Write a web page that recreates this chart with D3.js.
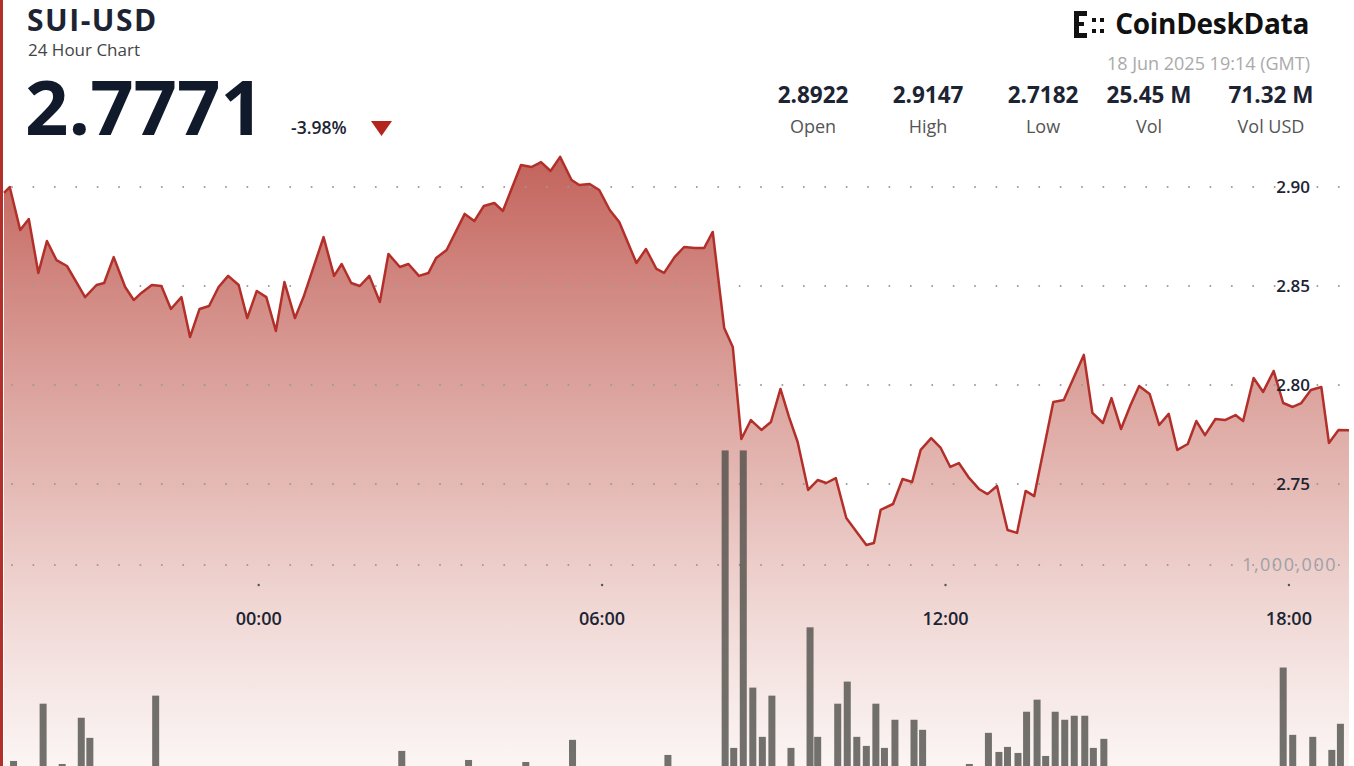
<!DOCTYPE html>
<html><head><meta charset="utf-8">
<script src="https://cdn.jsdelivr.net/npm/d3@7"></script>
<style>body{margin:0;background:#fff;font-family:"Open Sans",sans-serif}</style>
</head><body><svg id="c" width="1354" height="766" font-family="Open Sans, sans-serif"></svg>
<script>
// minutes since start (17 Jun 19:33 GMT)
const priceTimes=[0,6,17,26,36,45,55,66,85,97,105,115,127,136,144,155,165,175,186,195,205,215,225,235,246,255,265,275,285,294,305,314,335,346,354,364,373,383,394,403,415,424,435,445,453,464,483,493,503,514,523,542,553,563,573,583,595,603,614,624,635,645,663,673,684,692,703,713,724,734,743,755,764,773,783,794,804,814,823,832,843,853,862,872,883,904,912,919,932,942,952,961,972,982,992,1001,1011,1022,1031,1041,1052,1062,1071,1080,1100,1111,1132,1141,1152,1161,1171,1181,1190,1201,1211,1221,1230,1241,1250,1259,1270,1280,1291,1299,1310,1320,1331,1341,1351,1360,1370,1381,1389,1399,1410];
const prices=[2.8970,2.9000,2.8783,2.8838,2.8566,2.8727,2.8631,2.8601,2.8444,2.8505,2.8515,2.8646,2.8495,2.8429,2.8465,2.8505,2.8500,2.8384,2.8444,2.8242,2.8384,2.8399,2.8495,2.8551,2.8505,2.8338,2.8475,2.8444,2.8273,2.8520,2.8338,2.8444,2.8747,2.8551,2.8611,2.8515,2.8500,2.8551,2.8419,2.8662,2.8596,2.8611,2.8551,2.8566,2.8641,2.8682,2.8864,2.8828,2.8904,2.8919,2.8879,2.9111,2.9101,2.9126,2.9081,2.9152,2.9035,2.9010,2.9015,2.8985,2.8884,2.8823,2.8616,2.8687,2.8586,2.8566,2.8646,2.8697,2.8692,2.8692,2.8773,2.8288,2.8192,2.7727,2.7823,2.7773,2.7813,2.7980,2.7838,2.7712,2.7470,2.7520,2.7505,2.7530,2.7328,2.7192,2.7202,2.7369,2.7399,2.7525,2.7510,2.7672,2.7732,2.7682,2.7586,2.7606,2.7535,2.7475,2.7449,2.7490,2.7268,2.7253,2.7465,2.7439,2.7914,2.7924,2.8152,2.7859,2.7808,2.7934,2.7778,2.7899,2.7995,2.7955,2.7798,2.7854,2.7672,2.7702,2.7818,2.7747,2.7828,2.7823,2.7848,2.7818,2.8035,2.7965,2.8071,2.7909,2.7889,2.7909,2.7975,2.7990,2.7707,2.7773,2.7771];
const volTimes=[10,41,61,81,90,159,417,487,547,596,696,756,765,775,785,795,805,825,845,853,874,884,894,904,914,923,934,954,963,1012,1032,1043,1052,1063,1072,1083,1092,1102,1112,1122,1133,1142,1153,1341,1351,1372,1392,1401];
const volumes=[25000,310000,10000,240000,140000,350000,75000,30000,20000,130000,55000,1570000,90000,1570000,390000,145000,350000,90000,690000,145000,310000,420000,145000,100000,310000,90000,230000,230000,180000,10000,165000,70000,95000,65000,270000,330000,50000,270000,230000,250000,250000,90000,135000,490000,155000,145000,80000,210000];
const priceTicks=[2.75,2.80,2.85,2.90];
const volTicks=[1000000];
const timeTicks=[267,627,987,1347];
const timeLabels=["00:00","06:00","12:00","18:00"];
const stats=[["2.8922","Open"],["2.9147","High"],["2.7182","Low"],["25.45 M","Vol"],["71.32 M","Vol USD"]];

const svg=d3.select("#c");
const x=d3.scaleLinear().domain([0,1410]).range([4,1349]);
const y=d3.scaleLinear().domain([2.75,2.90]).range([484,187]);
const yv=d3.scaleLinear().domain([0,1000000]).range([766,565]);
const defs=svg.append("defs");
const g=defs.append("linearGradient").attr("id","ag").attr("gradientUnits","userSpaceOnUse")
 .attr("x1",0).attr("y1",155).attr("x2",0).attr("y2",766);
g.append("stop").attr("offset",0).attr("stop-color","#bf5a52").attr("stop-opacity",0.95);
g.append("stop").attr("offset",0.55).attr("stop-color","#dfaaa4").attr("stop-opacity",0.8);
g.append("stop").attr("offset",1).attr("stop-color","#f8eeec").attr("stop-opacity",0.6);
const pts=priceTimes.map((t,i)=>[t,prices[i]]);
svg.append("path").datum(pts).attr("fill","url(#ag)")
 .attr("d",d3.area().x(d=>x(d[0])).y0(766).y1(d=>y(d[1])));
function dots(yy){for(let xx=12;xx<1350;xx+=21.4)svg.append("circle").attr("cx",xx).attr("cy",yy).attr("r",1).attr("fill","#9a9a9a");}
priceTicks.forEach(v=>dots(y(v)));
volTicks.forEach(v=>dots(yv(v)));
svg.selectAll(".vb").data(volTimes).join("rect").attr("x",(t)=>x(t)-3.5).attr("width",7)
 .attr("y",(t,i)=>yv(volumes[i])).attr("height",(t,i)=>766-yv(volumes[i]))
 .attr("fill","#4c4c47").attr("opacity",0.78);
svg.append("path").datum(pts).attr("fill","none").attr("stroke","#b3302a").attr("stroke-width",2.5)
 .attr("stroke-linejoin","round").attr("d",d3.line().x(d=>x(d[0])).y(d=>y(d[1])));
svg.selectAll(".pt").data(priceTicks).join("text").attr("x",1310).attr("y",d=>y(d)+6).attr("text-anchor","end")
 .attr("font-size",17).attr("font-weight",600).attr("fill","#1c2433").text(d=>d.toFixed(2));
svg.selectAll(".vt").data(volTicks).join("text").attr("x",1337).attr("y",d=>yv(d)+6).attr("text-anchor","end")
 .attr("font-size",18).attr("letter-spacing",1.5).attr("fill","#a0a0a6").text(d=>d3.format(",")(d));
timeTicks.forEach((t,i)=>{
 svg.append("circle").attr("cx",x(t)).attr("cy",585).attr("r",1.2).attr("fill","#555");
 svg.append("text").attr("x",x(t)).attr("y",625).attr("text-anchor","middle").attr("font-size",18).attr("font-weight",600).attr("fill","#1c2433").text(timeLabels[i]);
});
svg.append("rect").attr("x",0).attr("y",0).attr("width",3).attr("height",766).attr("fill","#b3302a");
svg.append("text").attr("x",27).attr("y",31).attr("font-size",30).attr("font-weight",700).attr("letter-spacing",1.5).attr("fill","#1c2433").text("SUI-USD");
svg.append("text").attr("x",28).attr("y",56).attr("font-size",17).attr("fill","#444").text("24 Hour Chart");
svg.append("text").attr("x",25).attr("y",135).attr("font-size",76).attr("font-weight",700).attr("fill","#111a2b").text("2.7771");
svg.append("text").attr("x",291).attr("y",134).attr("font-size",17.5).attr("font-weight",600).attr("fill","#1c2433").text("-3.98%");
svg.append("path").attr("d","M371,121 L392,121 L381.5,136 Z").attr("fill","#b3261e");
const sx=[813,928,1043,1149,1271];
stats.forEach((s,i)=>{
 svg.append("text").attr("x",sx[i]).attr("y",103).attr("text-anchor","middle").attr("font-size",22.5).attr("font-weight",700).attr("fill","#1c2433").text(s[0]);
 svg.append("text").attr("x",sx[i]).attr("y",133).attr("text-anchor","middle").attr("font-size",18).attr("fill","#555").text(s[1]);
});
svg.append("text").attr("x",1310).attr("y",70).attr("text-anchor","end").attr("font-size",18).attr("fill","#aaa").text("18 Jun 2025 19:14 (GMT)");
svg.append("text").attr("x",1309).attr("y",34).attr("text-anchor","end").attr("font-size",28).attr("font-weight",700).attr("fill","#111").attr("letter-spacing",-0.3).text("CoinDeskData");
const lg=svg.append("g").attr("fill","#111");
[[1074,11,5,27],[1074,11,13,5],[1074,33,13,5],[1074,22,10,4],[1092,18,4,4],[1092,29,4,4],[1100,18,4,4],[1100,29,4,4]].forEach(r=>lg.append("rect").attr("x",r[0]).attr("y",r[1]).attr("width",r[2]).attr("height",r[3]));
</script></body></html>
